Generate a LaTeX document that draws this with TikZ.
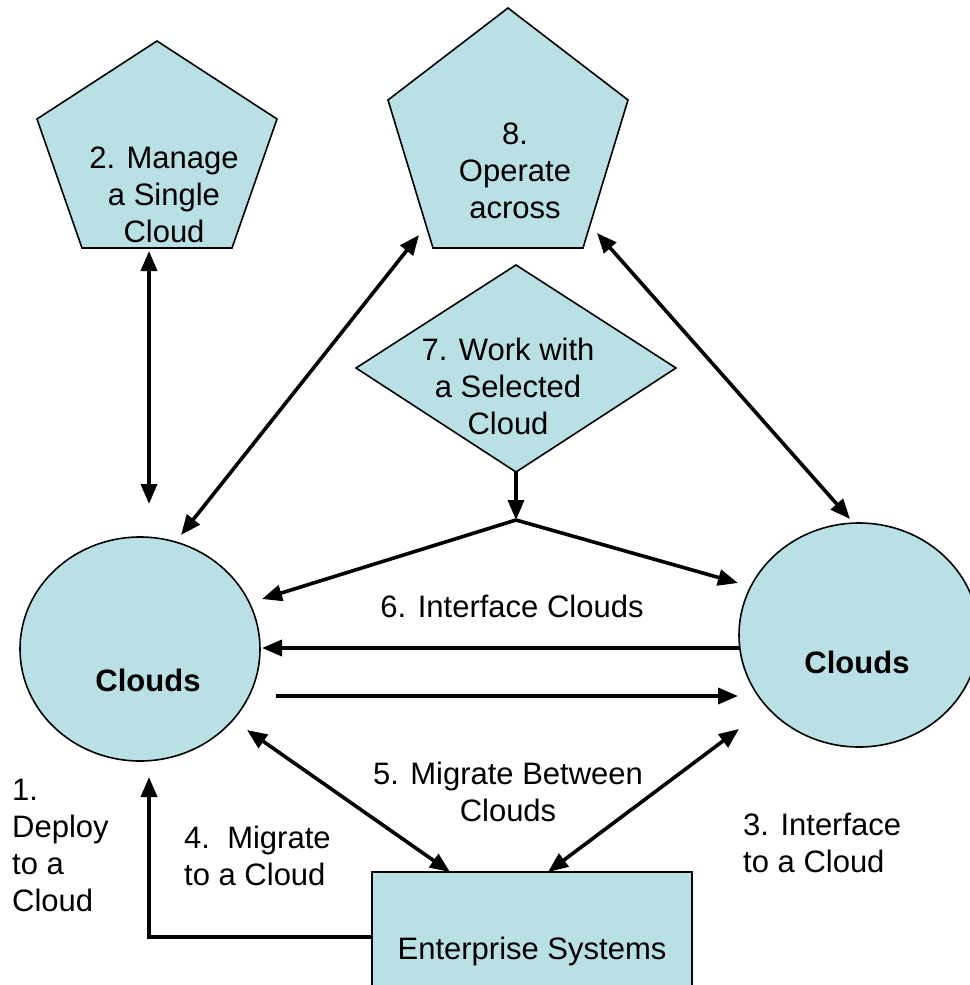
\documentclass[tikz,border=0pt]{standalone}
\usepackage{fontspec}
\setmainfont{Liberation Sans}
\usetikzlibrary{arrows.meta,shapes.geometric}
\definecolor{fillblue}{RGB}{185,224,228}
\begin{document}
\begin{tikzpicture}[x=1pt,y=-1pt,
  shapebox/.style={draw=black, line width=1.6pt, fill=fillblue, line join=miter},
  conn/.style={line width=3.6pt, -{Triangle[length=20pt,width=16pt]}},
  biconn/.style={line width=3.6pt, {Triangle[length=20pt,width=16pt]}-{Triangle[length=20pt,width=16pt]}},
  plain/.style={line width=3.6pt},
  lbl/.style={font=\fontsize{31}{37}\selectfont, align=center, inner sep=0pt},
  lbll/.style={font=\fontsize{31}{37}\selectfont, align=left, anchor=west, inner sep=0pt},
  ]
\useasboundingbox (0,0) rectangle (969,985);

% shapes
\draw[shapebox] (157,41) -- (277,119) -- (232,248) -- (82,248) -- (37,119) -- cycle;
\draw[shapebox] (508,8) -- (628,100) -- (583,248) -- (433,248) -- (388,100) -- cycle;
\draw[shapebox] (516,265) -- (676,368) -- (516,472) -- (356,368) -- cycle;
\node[shapebox, ellipse, minimum width=240pt, minimum height=224pt, inner sep=0pt] (lc) at (140,649) {};
\node[shapebox, ellipse, minimum width=240pt, minimum height=224pt, inner sep=0pt] (rc) at (859,635) {};
\draw[shapebox] (372,872) rectangle (692,1000);

% texts
\node[lbl] (manage) at (164,195) {2. Manage\\a Single\\Cloud};
\node[lbl] (operate) at (515,171) {8.\\Operate\\across};
\node[lbl] (work) at (508,386) {7. Work with\\a Selected\\Cloud};
\node[lbl, font=\fontsize{31}{37}\selectfont\bfseries] (lctext) at (148,680) {Clouds};
\node[lbl, font=\fontsize{31}{37}\selectfont\bfseries] (rctext) at (857,662) {Clouds};
\node[lbl] (ent) at (532,951) {Enterprise Systems};
\node[lbl] (six) at (512,606) {6. Interface Clouds};
\node[lbl] (five) at (508,792) {5. Migrate Between\\Clouds};
\node[lbll] (four) at (184,856) {4.\ \ Migrate\\to a Cloud};
\node[lbll] (one) at (12,845) {1.\\Deploy\\to a\\Cloud};
\node[lbll] (three) at (743,843) {3. Interface\\to a Cloud};

% connector end points
\coordinate (manageB) at (149,251);
\coordinate (lcTop) at (149,504);
\coordinate (lcTR) at (181,535);
\coordinate (opBL) at (419,235);
\coordinate (opBR) at (597,233);
\coordinate (rcTop) at (850,519);
\coordinate (workB) at (516,472);
\coordinate (junc) at (516,520);
\coordinate (lcR1) at (262,599);
\coordinate (rcL1) at (738,583);
\coordinate (rcL2) at (739,648);
\coordinate (lcR2) at (262,648);
\coordinate (lcR3) at (276,696);
\coordinate (rcL3) at (738,696);
\coordinate (lcBR) at (247,730);
\coordinate (entTL) at (450,872);
\coordinate (entTR) at (548,872);
\coordinate (rcBL) at (739,729);
\coordinate (entL) at (372,937);
\coordinate (bend) at (149,937);
\coordinate (lcB) at (149,777);

% connectors
\draw[biconn] (manageB) -- (lcTop);
\draw[biconn] (lcTR) -- (opBL);
\draw[biconn] (opBR) -- (rcTop);
\draw[conn] (workB) -- (junc);
\draw[conn, line join=miter] (junc) -- (lcR1);
\draw[conn] (junc) -- (rcL1);
\draw[conn] (rcL2) -- (lcR2);
\draw[conn] (lcR3) -- (rcL3);
\draw[biconn] (lcBR) -- (entTL);
\draw[biconn] (rcBL) -- (entTR);
\draw[conn, line join=miter] (entL) -- (bend) -- (lcB);
\end{tikzpicture}
\end{document}
